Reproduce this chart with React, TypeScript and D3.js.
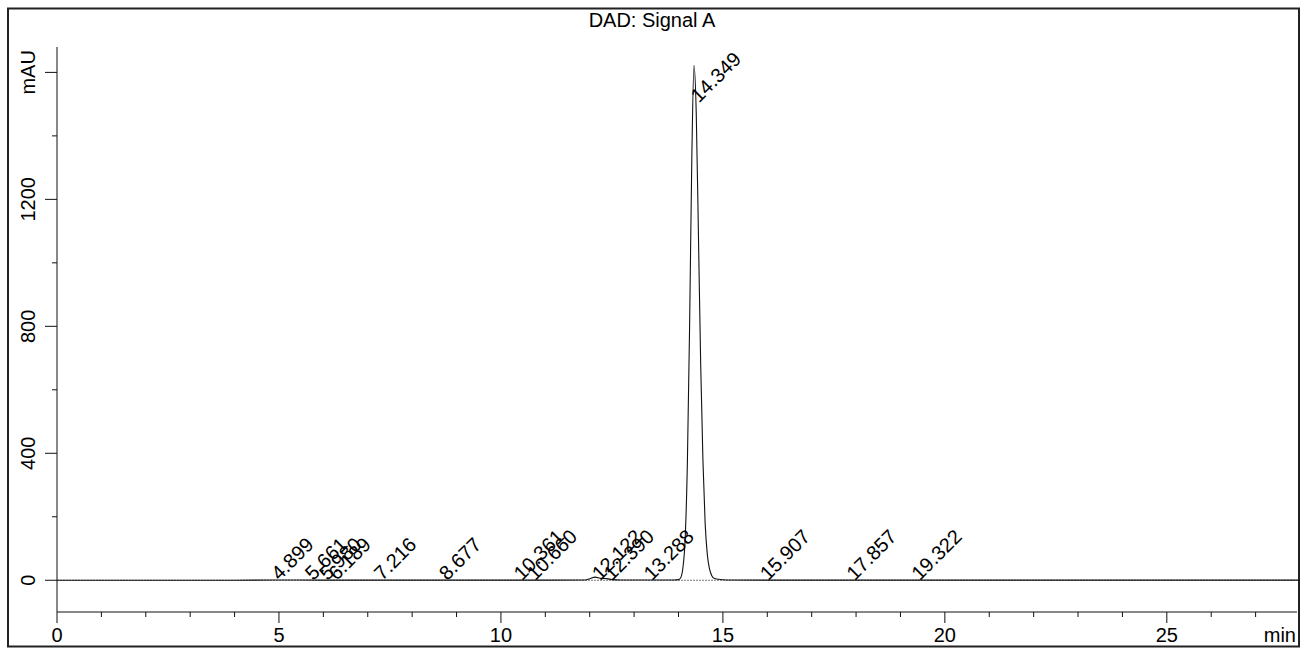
import React, { useEffect, useRef } from "react";
import * as d3 from "d3";

// chromatogram trace (min, mAU)
const traceTime = [0, 2, 4, 4.899, 6, 8, 10, 11.0, 11.9, 12.0, 12.122, 12.25, 12.39, 12.5, 12.7, 13.288, 13.9,
  14.0, 14.05, 14.1, 14.15, 14.2, 14.25, 14.3, 14.349, 14.4, 14.45, 14.5, 14.55, 14.6, 14.65, 14.7, 14.75, 14.8,
  14.9, 15.1, 16, 18, 20, 24, 28];
const traceValue = [0, 0, 0, 1, 0.5, 0.5, 0.5, 0.5, 1, 5, 10, 6, 5, 2, 1, 1, 1,
  2, 8, 40, 130, 370, 800, 1330, 1622, 1470, 1080, 680, 380, 180, 80, 35, 14, 6,
  3, 1, 0.5, 0.5, 0.5, 0.5, 0.5];

// integrated peaks: retention time label and the height where the label sits
const peakTimes = [4.899, 5.661, 5.98, 6.189, 7.216, 8.677, 10.361, 10.66, 12.122, 12.39, 13.288, 14.349, 15.907, 17.857, 19.322];
const peakLabelAt = [0, 0, 0, 0, 0, 0, 0, 0, 0, 0, 0, 1505, 0, 0, 0];

const xTicks = [0, 5, 10, 15, 20, 25];
const yTicks = [0, 400, 800, 1200, 1600];
const yTickLabels = ["0", "400", "800", "1200", "mAU"];

const W = 1307;
const H = 648;

export default function App() {
  const ref = useRef<SVGSVGElement>(null);

  useEffect(() => {
    const svg = d3.select(ref.current);
    svg.selectAll("*").remove();
    const font = "'Liberation Sans', Arial, sans-serif";
    const fs = 20;

    const x = d3.scaleLinear().domain([0, 28]).range([57, 1300]);
    const y = d3.scaleLinear().domain([-100, 1680]).range([612, 47]);

    // outer frame
    svg.append("rect").attr("x", 8).attr("y", 8.5).attr("width", 1291).attr("height", 638)
      .attr("fill", "none").attr("stroke", "#222").attr("stroke-width", 2);

    svg.append("text").attr("x", 652).attr("y", 27).attr("text-anchor", "middle")
      .attr("font-family", font).attr("font-size", fs).text("DAD: Signal A");

    // zero line
    svg.append("line").attr("x1", 57).attr("x2", 1297).attr("y1", y(0)).attr("y2", y(0))
      .attr("stroke", "#777").attr("stroke-dasharray", "2,1");

    // axes
    svg.append("line").attr("x1", 57).attr("x2", 57).attr("y1", 47).attr("y2", 612).attr("stroke", "#111");
    svg.append("line").attr("x1", 57).attr("x2", 1297).attr("y1", 612).attr("y2", 612).attr("stroke", "#111");

    const g = svg.append("g");
    d3.range(0, 28, 1).forEach(t => {
      const major = t % 5 === 0;
      g.append("line").attr("x1", x(t)).attr("x2", x(t)).attr("y1", 612).attr("y2", major ? 623 : 617)
        .attr("stroke", "#111");
    });
    xTicks.forEach(t => {
      g.append("text").attr("x", x(t)).attr("y", 642).attr("text-anchor", "middle")
        .attr("font-family", font).attr("font-size", fs).text(String(t));
    });
    svg.append("text").attr("x", 1296).attr("y", 642).attr("text-anchor", "end")
      .attr("font-family", font).attr("font-size", fs).text("min");

    d3.range(0, 1601, 200).forEach(v => {
      const major = v % 400 === 0;
      g.append("line").attr("x1", major ? 45 : 52).attr("x2", 57).attr("y1", y(v)).attr("y2", y(v))
        .attr("stroke", "#111");
    });
    yTicks.forEach((v, i) => {
      g.append("text").attr("transform", `translate(35,${y(v)}) rotate(-90)`).attr("text-anchor", "middle")
        .attr("font-family", font).attr("font-size", fs).text(yTickLabels[i]);
    });

    // trace
    const pts: [number, number][] = traceTime.map((t, i) => [t, traceValue[i]]);
    const line = d3.line<[number, number]>().x(d => x(d[0])).y(d => y(d[1])).curve(d3.curveMonotoneX);
    svg.append("path").attr("d", line(pts)).attr("fill", "none").attr("stroke", "#111").attr("stroke-width", 1.1);

    // peak labels
    peakTimes.forEach((t, i) => {
      svg.append("text")
        .attr("transform", `translate(${x(t) + 5},${y(peakLabelAt[i]) + 1}) rotate(-45)`)
        .attr("font-family", font).attr("font-size", fs).text(t.toFixed(3));
    });
  }, []);

  return (
    <svg ref={ref} width={W} height={H} style={{ position: "absolute", left: 0, top: 0, background: "#fff" }} />
  );
}
